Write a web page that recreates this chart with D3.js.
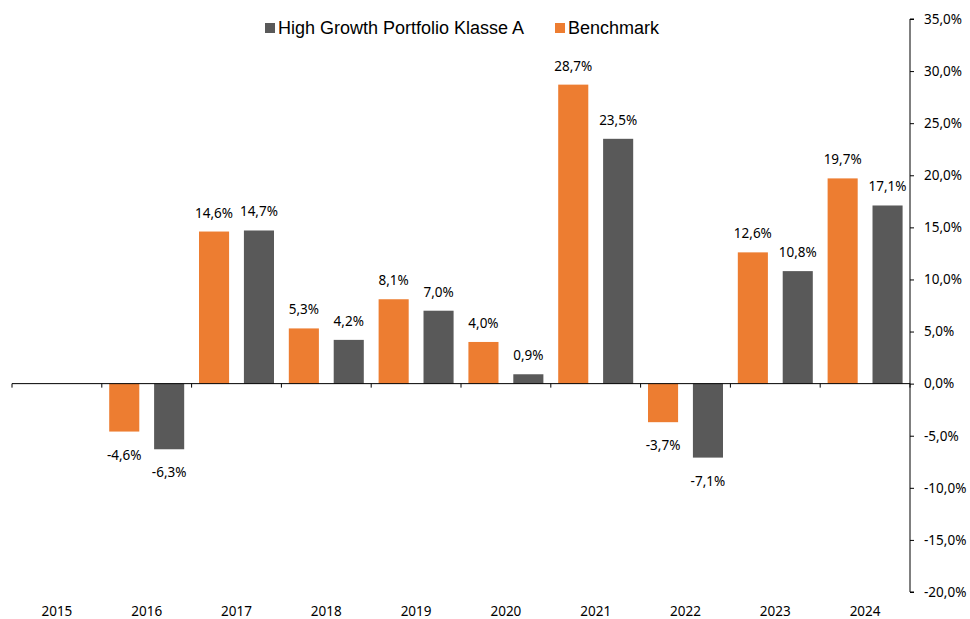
<!DOCTYPE html>
<html>
<head>
<meta charset="utf-8">
<script src="https://cdn.jsdelivr.net/npm/d3@7"></script>
<style>
  body { margin: 0; background: #fff; }
  svg text { font-family: "Noto Sans", sans-serif; }
</style>
</head>
<body>
<div id="chart"></div>
<script>
// data
var years = ['2015', '2016', '2017', '2018', '2019', '2020', '2021', '2022', '2023', '2024'];
var benchmark = [null, -4.6, 14.6, 5.3, 8.1, 4.0, 28.7, -3.7, 12.6, 19.7];
var highGrowth = [null, -6.3, 14.7, 4.2, 7.0, 0.9, 23.5, -7.1, 10.8, 17.1];
var yTicks = [-20, -15, -10, -5, 0, 5, 10, 15, 20, 25, 30, 35];

var seriesNames = ['Benchmark', 'High Growth Portfolio Klasse A'];
var colors = {'Benchmark': '#ED7D31', 'High Growth Portfolio Klasse A': '#595959'};

var width = 970, height = 619;

var svg = d3.select('#chart').append('svg')
    .attr('width', width)
    .attr('height', height);

var x0 = d3.scaleBand()
    .domain(years)
    .range([12, 910]);

var x1 = d3.scaleBand()
    .domain(seriesNames)
    .range([0, x0.bandwidth()])
    .paddingInner(0.33)
    .paddingOuter(0.165);

var y = d3.scaleLinear()
    .domain([-20, 35])
    .range([592, 19]);

var fmt = function(v) {
    return d3.format('.1f')(v).replace('.', ',').replace('−', '-') + '%';
};

var rows = years.map(function(yr, i) {
    return {year: yr, values: [
        {name: 'Benchmark', value: benchmark[i]},
        {name: 'High Growth Portfolio Klasse A', value: highGrowth[i]}
    ]};
});

// bars
var groups = svg.selectAll('g.year')
    .data(rows)
    .enter().append('g')
    .attr('class', 'year')
    .attr('transform', function(d) { return 'translate(' + x0(d.year) + ',0)'; });

var bars = groups.selectAll('g.bar')
    .data(function(d) { return d.values.filter(function(v) { return v.value !== null; }); })
    .enter().append('g')
    .attr('class', 'bar');

bars.append('rect')
    .attr('x', function(d) { return x1(d.name); })
    .attr('width', x1.bandwidth())
    .attr('y', function(d) { return y(Math.max(0, d.value)); })
    .attr('height', function(d) { return Math.abs(y(d.value) - y(0)); })
    .attr('fill', function(d) { return colors[d.name]; });

bars.append('text')
    .attr('x', function(d) { return x1(d.name) + x1.bandwidth() / 2; })
    .attr('y', function(d) { return d.value >= 0 ? y(d.value) - 14 : y(d.value) + 28; })
    .attr('text-anchor', 'middle')
    .attr('font-size', 13.5)
    .attr('fill', '#000')
    .text(function(d) { return fmt(d.value); });

// x axis line at zero with ticks between categories
var xAxis = svg.append('g');
xAxis.append('line')
    .attr('x1', x0.range()[0]).attr('x2', x0.range()[1])
    .attr('y1', y(0)).attr('y2', y(0))
    .attr('stroke', '#000')
    .attr('stroke-width', 1);

var tickXs = years.map(function(yr) { return x0(yr); }).concat([x0.range()[1]]);
xAxis.selectAll('line.tick')
    .data(tickXs)
    .enter().append('line')
    .attr('class', 'tick')
    .attr('x1', function(d) { return d; }).attr('x2', function(d) { return d; })
    .attr('y1', y(0)).attr('y2', y(0) + 4)
    .attr('stroke', '#000');

svg.append('g').selectAll('text')
    .data(years)
    .enter().append('text')
    .attr('x', function(d) { return x0(d) + x0.bandwidth() / 2; })
    .attr('y', 616)
    .attr('text-anchor', 'middle')
    .attr('font-size', 13.5)
    .attr('fill', '#000')
    .text(function(d) { return d; });

// y axis on the right
var yAxis = svg.append('g')
    .attr('transform', 'translate(910,0)')
    .call(d3.axisRight(y)
        .tickValues(yTicks)
        .tickSize(4)
        .tickPadding(10)
        .tickFormat(fmt));

yAxis.select('.domain')
    .attr('d', 'M4,' + y(35) + 'H0V' + y(-20) + 'H4')
    .attr('stroke', '#000');
yAxis.selectAll('.tick line').attr('stroke', '#000');
yAxis.selectAll('.tick text')
    .attr('font-size', 13.5)
    .attr('font-family', '"Noto Sans", sans-serif')
    .attr('fill', '#000');

// legend
var legendItems = [
    {name: 'High Growth Portfolio Klasse A', x: 265},
    {name: 'Benchmark', x: 555}
];
var legend = svg.append('g').selectAll('g')
    .data(legendItems)
    .enter().append('g')
    .attr('transform', function(d) { return 'translate(' + d.x + ',23)'; });

legend.append('rect')
    .attr('width', 10).attr('height', 10)
    .attr('fill', function(d) { return colors[d.name]; });

legend.append('text')
    .attr('x', 13)
    .attr('y', 10.5)
    .attr('font-size', 18)
    .style('font-family', '"Liberation Sans", Arial, sans-serif')
    .attr('fill', '#000')
    .text(function(d) { return d.name; });
</script>
</body>
</html>
